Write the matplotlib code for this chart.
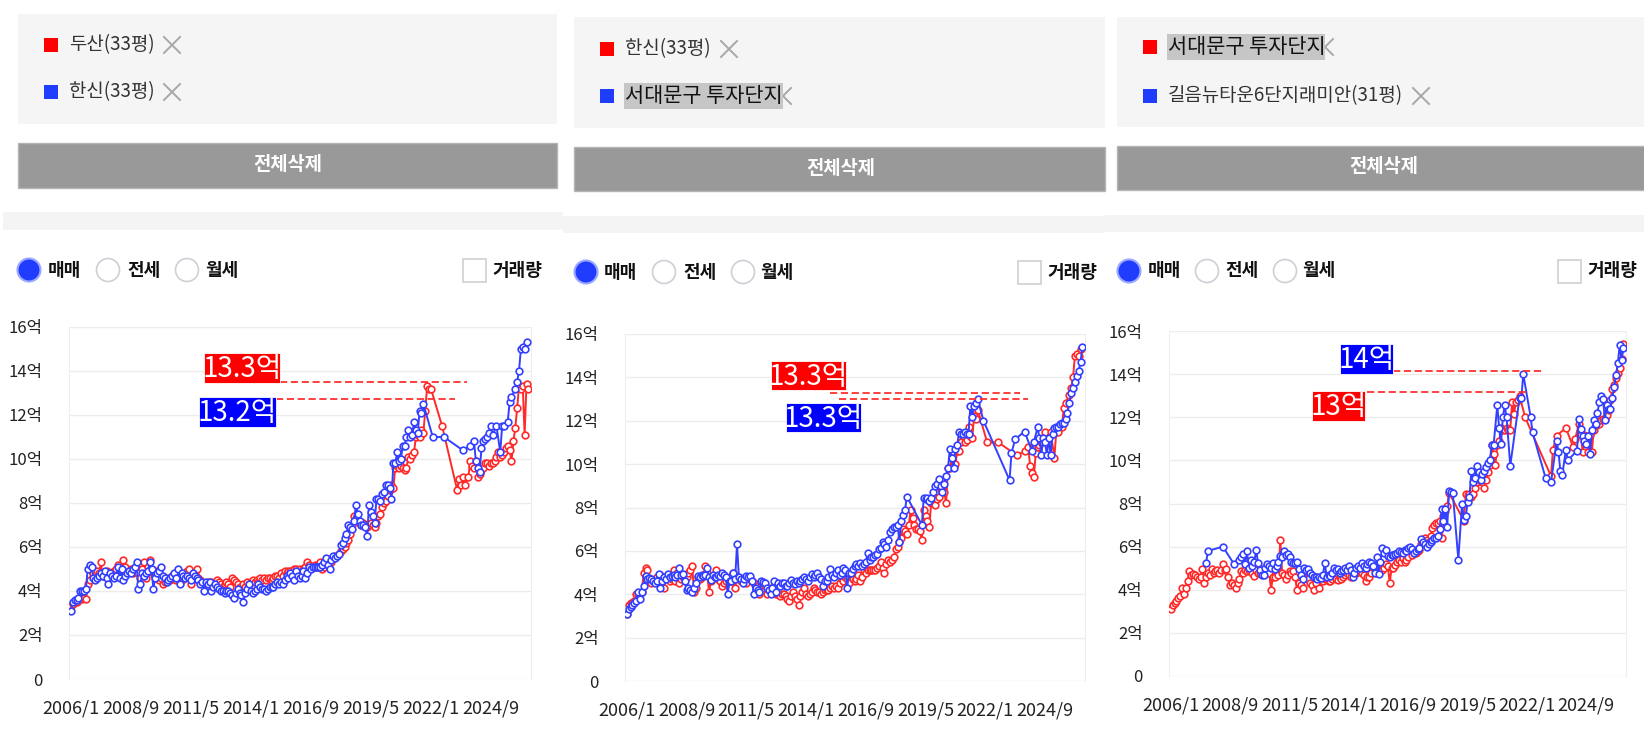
import numpy as np
import pandas as pd
import matplotlib
matplotlib.use('Agg')
import matplotlib.pyplot as plt
from matplotlib.patches import Rectangle, Circle

plt.rcParams['font.family'] = ['Noto Sans CJK KR', 'DejaVu Sans']

# monthly sale prices in 억, one row per year from 2006/1, None = no trade that month
doosan = [
    3.3, 3.4, 3.5, 3.5, 3.6, 3.7, 3.65, 3.7, 3.65, 4.3, 4.5, 4.9,
    4.8, 4.7, 4.9, 4.8, 5.3, 4.7, 4.8, 4.9, 4.6, 4.7, 4.8, 4.9,
    5.0, 5.2, 4.9, 5.0, 5.4, 5.1, 4.8, 4.9, 5.0, 4.8, 4.9, 5.0,
    4.8, 4.6, 5.0, 5.3, 4.6, 5.1, 5.4, 4.9, 4.8, 4.7, 4.9, 4.5,
    4.6, 4.3, 4.4, 4.5, 4.6, 4.5, 4.7, 4.6, 4.5, 4.6, 4.4, 4.5,
    4.6, 4.7, 4.9, 5.0, 4.3, 4.6, 4.8, 5.0, 4.6, 4.5, 4.4, 4.3,
    4.3, 4.4, 4.3, 4.4, 4.2, 4.3, 4.5, 4.4, 4.3, 4.2, 4.3, 4.4,
    4.3, 4.2, 4.6, 4.5, 4.4, 4.3, 4.2, 4.1, 4.3, 4.2, 4.4, 4.3,
    4.4, 4.5, 4.4, 4.5, 4.4, 4.6, 4.5, 4.6, 4.5, 4.6, 4.6, 4.5,
    4.6, 4.7, 4.7, 4.6, 4.8, 4.7, 4.9, 4.8, 4.9, 4.9, 4.8, 5.0,
    5.0, 4.9, 5.0, 4.8, 5.0, 5.1, 5.3, 5.2, 5.1, 5.1, 5.2, 5.1,
    5.2, 5.3, 5.0, 5.1, 5.3, 5.2, 5.4, 5.3, 5.5, 5.6, 5.6, 5.7,
    5.8, 5.9, 6.0, 6.2, 6.3, 6.6, 7.0, 7.4, 7.3, 7.2, 7.1, 7.0,
    7.1, 7.0, 6.9, 7.0, 7.1, 7.0, 6.9, 7.1, 7.4, 7.5, 7.8, 8.0,
    8.1, 8.3, 8.6, 8.8, 8.7, 9.6, 9.7, 9.6, 9.7, 9.6, 9.5, 9.6,
    10.1, 10.0, 10.2, 10.3, 11.0, 11.1, 11.0, 11.3, 11.2, 12.2, 13.3, 13.2,
    13.2, None, None, None, None, None, 11.5, None, None, None, None, None,
    None, None, 8.6, 9.1, 8.8, 9.2, 8.8, None, 9.2, 9.9, 9.7, 9.6,
    9.9, 9.2, 9.3, 9.5, 9.6, 9.8, 9.8, 9.7, 9.8, 9.8, 9.9, 10.1,
    10.3, 10.1, 10.2, 10.3, 10.5, 10.6, 10.4, 9.9, 10.8, 11.4, 12.3, 13.3,
    13.2, 13.3, 11.1, 13.4, 13.2,
]

hanshin = [
    3.1, 3.5, 3.6, 3.6, 3.7, 4.0, 4.0, 4.0, 4.1, 5.0, 5.2, 5.1,
    4.6, 4.5, 4.6, 4.7, 4.8, 4.7, 4.9, 4.6, 4.3, 4.8, 4.7, 4.6,
    4.7, 5.1, 4.6, 5.0, 4.5, 4.7, 4.8, 4.9, 4.8, 5.0, 5.1, 5.3,
    4.1, 4.3, 4.8, 4.7, 4.8, 4.9, 5.3, 5.0, 4.1, 4.6, 4.8, 4.9,
    5.1, 4.7, 4.6, 4.4, 4.5, 4.6, 4.7, 4.8, 4.6, 5.0, 4.3, 4.8,
    4.7, 4.6, 4.7, 4.6, 4.5, 4.8, 4.7, 4.6, 4.5, 4.3, 4.4, 4.0,
    4.4, 4.3, 4.4, 4.0, 4.2, 4.3, 4.2, 4.1, 4.0, 4.0, 3.9, 4.0,
    4.0, 3.9, 3.8, 3.7, 3.9, 4.1, 3.9, 3.8, 3.5, 3.9, 4.1, 4.3,
    4.0, 3.9, 4.0, 4.1, 4.3, 4.2, 4.1, 4.1, 4.0, 4.1, 4.2, 4.2,
    4.2, 4.3, 4.4, 4.3, 4.4, 4.3, 4.5, 4.7, 4.6, 4.8, 4.7, 4.5,
    4.9, 4.7, 4.6, 4.7, 4.9, 4.6, 4.8, 5.1, 5.0, 5.1, 5.1, 5.1,
    5.1, 5.1, 5.2, 5.3, 5.5, 5.2, 5.0, 5.4, 5.6, 5.5, 5.6, 5.7,
    6.1, 6.2, 6.4, 6.6, 7.0, 6.9, 6.8, 7.2, 7.9, 7.5, 7.2, 7.0,
    7.0, 6.9, 6.5, 7.9, 7.6, 7.4, 7.1, 8.2, 8.2, 8.1, 8.4, 8.5,
    8.8, 8.8, 8.7, 8.2, 9.8, 9.8, 10.3, 9.9, 10.0, 10.6, 10.6, 11.0,
    11.3, 11.0, 11.1, 11.7, 11.3, 11.2, 12.2, 12.1, 12.5, None, None, None,
    None, 11.0, None, None, None, None, None, 11.0, None, None, None, None,
    None, None, None, None, None, 10.4, None, None, None, 10.6, None, 10.8,
    9.9, 9.6, 9.4, 10.5, 10.8, 10.9, 11.0, 11.2, 11.5, 11.1, None, 11.5,
    None, 10.3, 11.5, 11.5, None, 11.7, 12.6, 12.8, None, 13.2, 13.5, 14.0,
    15.0, 15.1, 15.0, 15.3,
]

seodaemun = [
    3.1, 3.3, 3.4, 3.5, 3.6, 3.7, 4.1, 3.8, 4.1, 4.4, 4.85, 4.7,
    4.75, 4.7, 4.6, 4.5, 4.6, 4.95, 4.3, 4.6, 4.8, 4.7, 4.95, 4.8,
    4.85, 4.9, 4.8, 4.9, 5.2, 4.9, 4.95, 4.6, 4.2, 4.3, 4.2, 4.1,
    4.3, 4.5, 4.85, 4.8, 4.9, 4.85, 4.9, 5.2, 4.8, 4.65, 4.9, 4.8,
    4.8, 4.9, 4.85, 5.0, 4.9, 4.8, 4.0, 4.6, 4.6, 5.0, 4.7, 6.3,
    4.8, 4.7, 4.5, 4.7, 4.85, 4.8, 4.85, 4.6, 4.0, 4.3, 4.2, 4.1,
    4.6, 4.55, 4.5, 4.3, 4.2, 4.0, 4.3, 4.6, 4.1, 4.5, 4.4, 4.5,
    4.5, 4.4, 4.4, 4.5, 4.65, 4.5, 4.45, 4.6, 4.5, 4.6, 4.7, 4.8,
    4.7, 4.6, 4.8, 4.95, 4.8, 4.9, 5.0, 4.8, 4.7, 4.4, 4.6, 4.6,
    4.8, 5.15, 4.9, 4.8, 5.0, 5.1, 4.9, 5.0, 5.2, 5.1, 4.3, 5.0,
    5.0, 5.15, 5.3, 5.4, 5.3, 5.45, 5.3, 5.4, 5.5, 5.9, 5.6, 5.7,
    5.7, 5.8, 5.85, 6.1, 6.15, 6.4, 6.3, 6.2, 6.5, 6.85, 7.0, 7.1,
    7.1, 7.2, 6.4, 7.4, 7.65, 7.9, 8.5, None, None, None, None, None,
    None, None, 7.2, 8.45, 8.4, 8.45, 8.3, 8.45, 8.7, 9.0, 9.1, 9.3,
    9.0, 8.7, 9.1, 9.45, 9.8, 10.7, 10.3, 9.8, 10.7, 10.9, 11.5, 11.4,
    11.4, 11.5, 11.4, 11.4, 12.7, 12.15, 12.7, 12.8, 13.0, None, None, 12.0,
    None, None, None, None, None, None, None, None, None, None, None, None,
    None, 9.26, 10.5, None, 11.15, None, None, None, None, 11.5, None, None,
    None, 10.6, 11.0, None, 11.7, 11.2, 10.4, 11.2, 11.0, 10.4, 11.2, 10.4,
    11.4, 11.65, 11.7, 11.7, 11.85, 11.9, 11.9, 12.1, 12.35, 12.8, 13.3, 13.5,
    13.8, 14.05, 14.3, 14.7, 15.4,
]

gireum = [
    None, None, None, None, None, None, None, None, None, None, None, None,
    None, None, None, None, None, None, None, 5.25, 5.8, None, None, None,
    None, None, None, None, 6.0, None, None, None, None, None, 5.2, None,
    None, 5.4, 5.5, 5.65, 5.2, 5.8, 5.0, 5.4, 5.1, 5.3, 5.85, 5.25,
    4.9, 4.7, 4.7, 5.0, 5.2, 5.1, 5.0, 5.25, 4.95, 5.1, 5.3, 5.55,
    5.5, 5.8, 5.6, 5.65, 5.5, 5.3, 5.25, 5.25, 5.3, 4.95, 4.7, 4.5,
    5.0, 4.9, 4.95, 4.8, 4.7, 4.6, 4.6, 4.5, 4.6, 4.55, 4.7, 5.25,
    4.6, 4.7, 4.65, 4.8, 5.0, 4.9, 4.95, 4.8, 4.85, 4.9, 5.0, 4.9,
    5.1, 4.9, 4.6, 4.8, 5.0, 5.1, 5.0, 5.25, 5.1, 5.0, 5.2, 5.3,
    5.25, 5.1, 4.8, 5.5, 4.75, 5.3, 5.95, 5.7, 5.85, 5.55, 5.5, 5.6,
    5.6, 5.65, 5.7, 5.8, 5.75, 5.7, 5.85, 5.8, 5.95, 6.0, 5.9, 5.7,
    5.8, 5.9, 5.95, 6.35, 6.2, 6.1, 6.0, 6.1, 6.2, 6.3, 6.4, 6.4,
    6.5, 6.8, 7.75, 7.2, 7.75, 6.9, 8.6, 8.55, 8.5, None, None, 5.4,
    None, 8.0, 7.25, 7.4, 8.05, 8.3, 9.5, 9.0, 9.2, 9.75, 9.45, 9.1,
    9.35, 9.5, 9.7, 9.9, 10.0, 10.7, 10.7, None, 12.55, 11.5, 10.75, 12.0,
    12.55, 12.0, None, 9.75, None, None, None, None, 12.9, 12.9, 14.0, None,
    None, None, 12.0, 11.3, None, None, None, None, None, None, 9.2, None,
    None, 9.0, None, None, 10.9, 10.4, 9.5, 9.3, None, 10.5, 10.0, None,
    None, None, None, 10.45, 11.9, 11.45, 11.15, 10.9, 10.75, 11.15, 10.3, 11.4,
    11.85, 11.7, 12.2, 12.7, 13.0, 12.85, 11.85, 12.55, 12.4, 12.4, 12.9, 13.4,
    13.95, 14.5, 15.35, 14.65, 15.2,
]

start_month = '2006-01'
y_ticks = [0, 2, 4, 6, 8, 10, 12, 14, 16]
y_labels = ['0', '2억', '4억', '6억', '8억', '10억', '12억', '14억', '16억']
tick_step = 32

# (red series, blue series, red name, blue name, red label, blue label)
panels = [
    (doosan, hanshin, '두산(33평)', '한신(33평)', '13.3억', '13.2억'),
    (hanshin, seodaemun, '한신(33평)', '서대문구 투자단지', '13.3억', '13.3억'),
    (seodaemun, gireum, '서대문구 투자단지', '길음뉴타운6단지래미안(31평)', '13억', '14억'),
]

RED = '#ff2a2a'
BLUE = '#3340ff'
W, H = 1644, 734

fig = plt.figure(figsize=(W / 100, H / 100), dpi=100)
fig.patch.set_facecolor('white')

# ---- UI part drawn in pixel coordinates ----
ui = fig.add_axes([0, 0, 1, 1], zorder=0)
ui.set_xlim(0, W)
ui.set_ylim(H, 0)
ui.axis('off')


def rect(x0, y0, x1, y1, **kw):
    ui.add_patch(Rectangle((x0, y0), x1 - x0, y1 - y0, **kw))


def xmark(cx, cy, h=8, color='#a8a8a8', z=2):
    ui.plot([cx - h, cx + h], [cy - h, cy + h], color=color, lw=1.4, zorder=z)
    ui.plot([cx - h, cx + h], [cy + h, cy - h], color=color, lw=1.4, zorder=z)


def legend_row(sq_x, y, name, color, xm, highlight=None):
    rect(sq_x, y - 7, sq_x + 14, y + 7, color=color, lw=0, zorder=3)
    if highlight is not None:
        xmark(highlight[1], y, z=2)
        rect(sq_x + 24, y - 13, highlight[1], y + 13, color='#c6c6c6', lw=0, zorder=3)
        ui.text(sq_x + 25, y, name, fontsize=15, color='#111111', va='center', ha='left', zorder=4)
    else:
        ui.text(sq_x + 25, y, name, fontsize=13.6, color='#333333', va='center', ha='left', zorder=4)
        xmark(xm, y)


def radio_row(y, cxs, tx, cb_x):
    ui.add_patch(Circle((cxs[0], y), 11.5, facecolor='#1f3cff', edgecolor='#9aa8ff', lw=1.5, zorder=3))
    for cx in cxs[1:]:
        ui.add_patch(Circle((cx, y), 11.5, facecolor='white', edgecolor='#cfcfd6', lw=1.2, zorder=3))
    for t, s in zip(tx, ['매매', '전세', '월세']):
        ui.text(t, y, s, fontsize=13, fontweight='bold', color='#111111', va='center', ha='left')
    rect(cb_x, y - 11, cb_x + 23, y + 12, facecolor='white', edgecolor='#cfcfcf', lw=1.2, zorder=3)
    ui.text(cb_x + 29, y, '거래량', fontsize=13, fontweight='bold', color='#111111', va='center', ha='left')


# panel 1 header
rect(18, 14, 557, 124, color='#f5f5f5', lw=0)
legend_row(44, 45, panels[0][2], '#ff0000', 172)
legend_row(44, 92, panels[0][3], '#1f3cff', 172)
rect(18, 143, 557, 188, facecolor='#999999', edgecolor='#b5b5b5', lw=1)
ui.text(288, 165, '전체삭제', fontsize=13.5, fontweight='bold', color='white', ha='center', va='center')
rect(3, 212, 563, 230, color='#f4f4f4', lw=0)
radio_row(270, [29, 108, 187], [48, 127, 205], 463)

# panel 2 header
rect(574, 17, 1105, 128, color='#f5f5f5', lw=0)
legend_row(600, 49, panels[1][2], '#ff0000', 729)
legend_row(600, 96, panels[1][3], '#1f3cff', None, highlight=(624, 783))
rect(574, 147, 1105, 191, facecolor='#999999', edgecolor='#b5b5b5', lw=1)
ui.text(841, 168, '전체삭제', fontsize=13.5, fontweight='bold', color='white', ha='center', va='center')
rect(563, 216, 1105, 233, color='#f4f4f4', lw=0)
radio_row(272, [586, 664, 743], [604, 683, 760], 1018)

# panel 3 header
rect(1117, 17, W, 127, color='#f5f5f5', lw=0)
legend_row(1143, 47, panels[2][2], '#ff0000', None, highlight=(1167, 1325))
legend_row(1143, 96, panels[2][3], '#1f3cff', 1421)
rect(1117, 146, W + 5, 190, facecolor='#999999', edgecolor='#b5b5b5', lw=1)
ui.text(1384, 167, '전체삭제', fontsize=13.5, fontweight='bold', color='white', ha='center', va='center')
rect(1105, 215, W, 232, color='#f4f4f4', lw=0)
radio_row(271, [1129, 1207, 1285], [1148, 1225, 1302], 1558)

# ---- charts ----
# plot boxes in pixels: left, right, top(16억), bottom(0)
boxes = [(69, 531, 327, 679), (625, 1085, 334, 681), (1169, 1626, 331, 676)]

# annotation boxes: (month0, month1, val0, val1) and dashed guide (val, month0, month1)
ann_red = [((71, 111.5, 13.45, 14.81), (13.49, 111.5, 211.3)),
           ((77.2, 117.4, 13.42, 14.75), (13.28, 108.8, 210.6)),
           ((76.1, 104.7, 11.84, 13.23), (13.18, 105.7, 193.0))]
ann_blue = [((68.3, 109.4, 11.44, 12.81), (12.72, 109.4, 204.9)),
            ((85.2, 125.4, 11.48, 12.82), (13.0, 113.6, 214.9)),
            ((91.2, 119.8, 14.02, 15.41), (14.16, 119.8, 200.1))]

n_months = max(len(s) for s in [doosan, hanshin, seodaemun, gireum])
periods = pd.period_range(start_month, periods=n_months, freq='M')
tick_pos = list(range(0, n_months, tick_step))
tick_lab = [f'{periods[i].year}/{periods[i].month}' for i in tick_pos]


def draw_series(ax, vals, color):
    y = np.array([np.nan if v is None else v for v in vals], dtype=float)
    x = np.arange(len(y))
    ok = ~np.isnan(y)
    ax.plot(x[ok], y[ok], color=color, lw=1.4, marker='o', ms=4.8,
            mfc='white', mec=color, mew=1.2, zorder=3)


for (red, blue, _, _, red_lab, blue_lab), (l, r, t, b), ar, ab in zip(panels, boxes, ann_red, ann_blue):
    ax = fig.add_axes([l / W, 1 - b / H, (r - l) / W, (b - t) / H], zorder=2)
    ax.set_facecolor('none')
    ax.set_xlim(-1, 245.4)
    ax.set_ylim(0, 16)
    ax.set_yticks(y_ticks)
    ax.set_yticklabels(y_labels)
    ax.set_xticks(tick_pos)
    ax.set_xticklabels(tick_lab)
    ax.tick_params(length=0, colors='#222222')
    ax.tick_params(axis='y', pad=19, labelsize=12)
    ax.tick_params(axis='x', pad=15, labelsize=13)
    ax.grid(axis='y', color='#ececec', lw=1)
    for s in ['top', 'bottom']:
        ax.spines[s].set_visible(False)
    for s in ['left', 'right']:
        ax.spines[s].set_color('#eeeeee')

    draw_series(ax, red, RED)
    draw_series(ax, blue, BLUE)

    for (m0, m1, v0, v1), (lv, lm0, lm1), fc, lab in [(ar[0], ar[1], '#ff0000', red_lab),
                                                      (ab[0], ab[1], '#0000ff', blue_lab)]:
        ax.hlines(lv, lm0, lm1, colors='#ff3030', linestyles=(0, (4, 2)), lw=1.3, zorder=4)
        ax.add_patch(Rectangle((m0, v0), m1 - m0, v1 - v0, facecolor=fc, edgecolor='#ffffff',
                               lw=0.6, zorder=5, clip_on=False))
        ax.text((m0 + m1) / 2, (v0 + v1) / 2 - 0.05, lab, color='white', fontsize=20,
                ha='center', va='center', zorder=6)

fig.savefig('out.png', dpi=100, facecolor='white')
